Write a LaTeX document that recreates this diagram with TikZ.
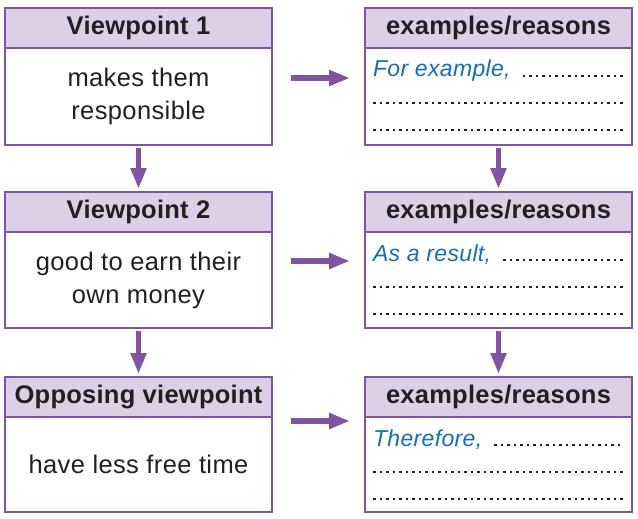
\documentclass[tikz,border=0pt]{standalone}
\usepackage{fontspec}
\setmainfont{Liberation Sans}
\usetikzlibrary{arrows.meta,calc}
\definecolor{vpurple}{RGB}{128,84,163}
\definecolor{vlav}{RGB}{220,208,230}
\definecolor{vblue}{RGB}{22,110,180}
\definecolor{vtext}{RGB}{35,31,32}
\begin{document}
\begin{tikzpicture}[x=1pt,y=-1pt,
  hdr/.style={draw=vpurple, line width=2.8pt, fill=vlav, minimum width=267pt,
    minimum height=40pt, inner sep=0pt, outer sep=0pt, anchor=north west,
    font=\fontsize{25.5}{28}\selectfont\bfseries\addfontfeature{LetterSpace=1}, text=vtext},
  bdy/.style={draw=vpurple, line width=2.8pt, fill=white, minimum width=267pt,
    minimum height=96pt, inner sep=0pt, outer sep=0pt, anchor=north west, align=center,
    font=\fontsize{25.5}{33}\selectfont\addfontfeature{LetterSpace=1.5}, text=vtext},
  lead/.style={anchor=base west, inner sep=0pt, outer sep=0pt, text=vblue,
    font=\fontsize{23}{26}\selectfont\itshape\addfontfeature{LetterSpace=1.5}},
  dotline/.style={draw=vtext, line width=2.6pt, dash pattern=on 2.6pt off 3.9pt},
  arr/.style={draw=vpurple, line width=5.5pt, -{Triangle[length=21pt,width=15pt]}}
]
\useasboundingbox (0,0) rectangle (638,519);

% left column
\node[hdr] (l1h) at (5,8) {Viewpoint 1};
\node[bdy, minimum height=97pt] (l1b) at (l1h.south west) {makes them\\responsible};
\node[hdr] (l2h) at (5,192) {Viewpoint 2};
\node[bdy] (l2b) at (l2h.south west) {good to earn their\\own money};
\node[hdr] (l3h) at (5,377) {Opposing viewpoint};
\node[bdy, minimum height=95pt] (l3b) at (l3h.south west) {have less free time};

% right column
\node[hdr] (r1h) at (365,8) {examples/reasons};
\node[bdy, minimum height=97pt] (r1b) at (r1h.south west) {};
\node[hdr] (r2h) at (365,192) {examples/reasons};
\node[bdy] (r2b) at (r2h.south west) {};
\node[hdr] (r3h) at (365,377) {examples/reasons};
\node[bdy, minimum height=95pt] (r3b) at (r3h.south west) {};

% lead-in texts and dotted lines
\node[lead] (t1) at ($(r1b.north west)+(8,29)$) {For example,};
\node[lead] (t2) at ($(r2b.north west)+(8,29)$) {As a result,};
\node[lead] (t3) at ($(r3b.north west)+(8,29)$) {Therefore,};
\foreach \t/\b in {t1/r1b,t2/r2b,t3/r3b}{
  \draw[dotline] ($(\t.base east)+(12,-1)$) -- ($(\t.base east -| \b.east)+(-9,-1)$);
  \draw[dotline] ($(\b.north west)+(8,55)$) -- ($(\b.north east)+(-9,55)$);
  \draw[dotline] ($(\b.north west)+(8,82)$) -- ($(\b.north east)+(-9,82)$);
}

% horizontal arrows
\draw[arr, shorten <=19pt, shorten >=15pt] ([yshift=-30pt]l1b.north east) -- ([yshift=-30pt]r1b.north west);
\draw[arr, shorten <=19pt, shorten >=15pt] ([yshift=-29pt]l2b.north east) -- ([yshift=-29pt]r2b.north west);
\draw[arr, shorten <=19pt, shorten >=15pt] ([yshift=-4pt]l3b.north east) -- ([yshift=-4pt]r3b.north west);

% vertical arrows
\draw[arr, shorten <=3pt, shorten >=3pt] (l1b.south) -- (l2h.north);
\draw[arr, shorten <=3pt, shorten >=3pt] (l2b.south) -- (l3h.north);
\draw[arr, shorten <=3pt, shorten >=3pt] (r1b.south) -- (r2h.north);
\draw[arr, shorten <=3pt, shorten >=3pt] (r2b.south) -- (r3h.north);
\end{tikzpicture}
\end{document}
